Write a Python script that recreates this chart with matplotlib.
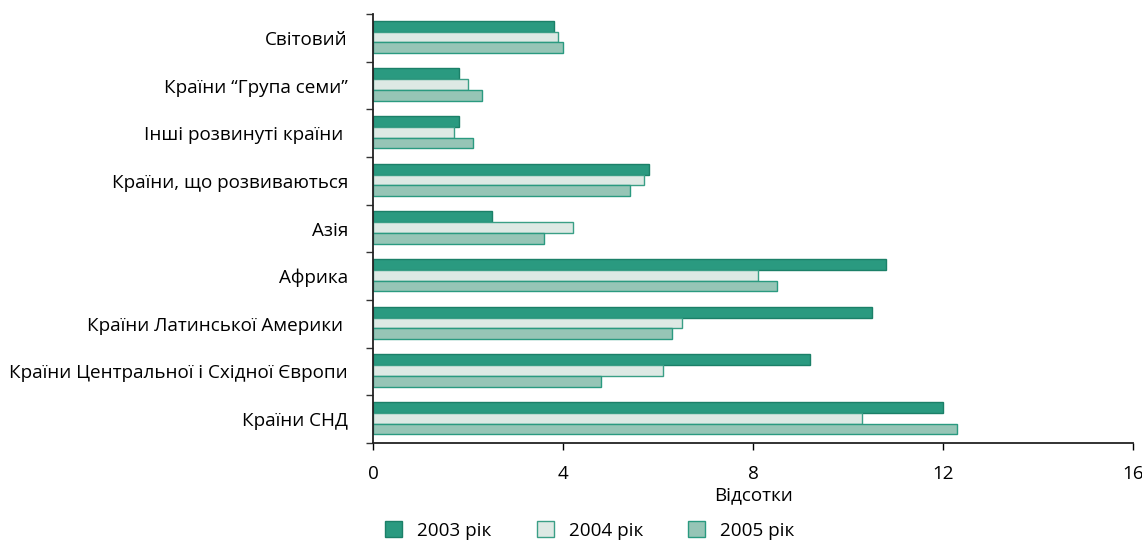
import numpy as np
import matplotlib
matplotlib.use('Agg')
import matplotlib.pyplot as plt
from matplotlib.ticker import FixedLocator

plt.rcParams['font.family'] = ['Open Sans', 'DejaVu Sans']

categories = ['Світовий', 'Країни “Група семи”', 'Інші розвинуті країни ',
              'Країни, що розвиваються', 'Азія', 'Африка',
              'Країни Латинської Америки ', 'Країни Центральної і Східної Європи',
              'Країни СНД']
y2003 = [3.8, 1.8, 1.8, 5.8, 2.5, 10.8, 10.5, 9.2, 12.0]
y2004 = [3.9, 2.0, 1.7, 5.7, 4.2, 8.1, 6.5, 6.1, 10.3]
y2005 = [4.0, 2.3, 2.1, 5.4, 3.6, 8.5, 6.3, 4.8, 12.3]
series_labels = ['2003 рік', '2004 рік', '2005 рік']

face = ['#2a9a80', '#dde9e4', '#96c5b6']
edge = ['#1b8068', '#3a9f86', '#2a9a80']
fs = 13.6

fig = plt.figure(figsize=(11.42, 5.43), dpi=100)
ax = fig.add_axes([373 / 1142, 100 / 543, 760 / 1142, 429 / 543])

y = np.arange(len(categories))
h = 0.225
for k, vals in enumerate([y2003, y2004, y2005]):
    ax.barh(y - 0.02 + (k - 1) * h, vals, height=h, color=face[k],
            edgecolor=edge[k], linewidth=1.0, label=series_labels[k])

ax.set_ylim(len(categories) - 0.5, -0.5)
ax.set_xlim(0, 16)
ax.set_xticks([0, 4, 8, 12, 16])
ax.set_yticks(y)
ax.set_yticklabels(categories)
ax.yaxis.set_minor_locator(FixedLocator(np.arange(-0.5, len(categories), 1.0)))
ax.tick_params(axis='y', which='major', length=0, pad=18, labelsize=fs)
ax.tick_params(axis='y', which='minor', length=5, width=1, color='#333333')
ax.tick_params(axis='x', length=5, width=1, pad=11, labelsize=fs)
ax.set_xlabel('Відсотки', fontsize=fs, labelpad=2)

for s in ['top', 'right']:
    ax.spines[s].set_visible(False)
for s in ['left', 'bottom']:
    ax.spines[s].set_linewidth(1.3)
    ax.spines[s].set_color('#222222')

fig.legend(loc='lower left', bbox_to_anchor=(368 / 1142, -0.025), ncol=3,
           frameon=False, fontsize=fs, handlelength=0.9, handleheight=0.9,
           columnspacing=2.4, handletextpad=0.8)

fig.savefig('out.png', dpi=100)
